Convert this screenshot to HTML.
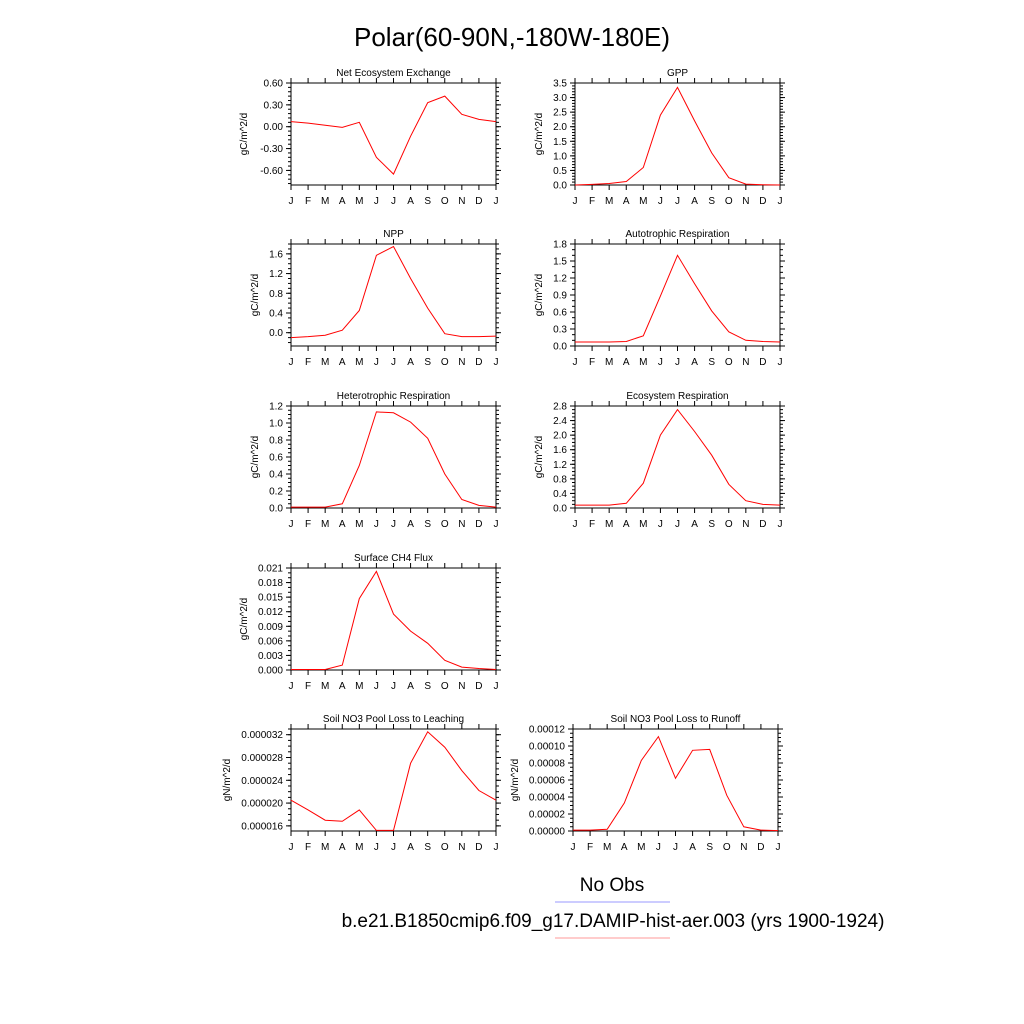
<!DOCTYPE html>
<html><head><meta charset="utf-8"><style>
body{margin:0;background:#fff;}
svg{display:block;font-family:"Liberation Sans",sans-serif;}
</style></head><body>
<svg id="c" width="1024" height="1024">
<text x="512" y="46" font-size="26" text-anchor="middle">Polar(60-90N,-180W-180E)</text>
<text x="612" y="891" font-size="19" text-anchor="middle">No Obs</text>
<line x1="555" y1="902" x2="670" y2="902" stroke="#99f" stroke-width="1"/>
<text x="613" y="927" font-size="19" text-anchor="middle">b.e21.B1850cmip6.f09_g17.DAMIP-hist-aer.003 (yrs 1900-1924)</text>
<line x1="555" y1="938" x2="670" y2="938" stroke="#f99" stroke-width="1"/>
</svg>
<script>
const months=["J","F","M","A","M","J","J","A","S","O","N","D","J"];
const titles=["Net Ecosystem Exchange","GPP","NPP","Autotrophic Respiration","Heterotrophic Respiration","Ecosystem Respiration","Surface CH4 Flux","Soil NO3 Pool Loss to Leaching","Soil NO3 Pool Loss to Runoff"];
const units=["gC/m^2/d","gC/m^2/d","gC/m^2/d","gC/m^2/d","gC/m^2/d","gC/m^2/d","gC/m^2/d","gN/m^2/d","gN/m^2/d"];
const neeVals=[0.07,0.05,0.02,-0.01,0.06,-0.42,-0.65,-0.13,0.33,0.42,0.17,0.10,0.07];
const gppVals=[0,0.02,0.05,0.12,0.6,2.4,3.35,2.2,1.1,0.25,0.03,0.01,0.0];
const nppVals=[-0.1,-0.08,-0.05,0.05,0.45,1.57,1.75,1.1,0.5,-0.02,-0.08,-0.08,-0.07];
const arVals=[0.07,0.07,0.07,0.08,0.18,0.88,1.6,1.1,0.62,0.25,0.1,0.08,0.07];
const hrVals=[0.01,0.01,0.01,0.05,0.5,1.13,1.12,1.01,0.82,0.4,0.1,0.03,0.01];
const erVals=[0.08,0.08,0.08,0.13,0.68,2.0,2.7,2.1,1.45,0.65,0.2,0.1,0.08];
const ch4Vals=[0.0001,0.0001,0.0001,0.001,0.0147,0.0203,0.0115,0.008,0.0055,0.002,0.0006,0.0003,0.0001];
const leachVals=[0.0000205,0.0000188,0.000017,0.0000168,0.0000188,0.0000152,0.0000152,0.000027,0.0000325,0.0000298,0.0000257,0.0000222,0.0000205];
const runoffVals=[0.000001,0.000001,0.000002,0.000033,0.000083,0.000111,0.000062,0.000095,0.000096,0.000042,0.000005,0.000001,0.0000005];
const neeTicks=["0.60","0.30","0.00","-0.30","-0.60"];
const gppTicks=["3.5","3.0","2.5","2.0","1.5","1.0","0.5","0.0"];
const nppTicks=["1.6","1.2","0.8","0.4","0.0"];
const arTicks=["1.8","1.5","1.2","0.9","0.6","0.3","0.0"];
const hrTicks=["1.2","1.0","0.8","0.6","0.4","0.2","0.0"];
const erTicks=["2.8","2.4","2.0","1.6","1.2","0.8","0.4","0.0"];
const ch4Ticks=["0.021","0.018","0.015","0.012","0.009","0.006","0.003","0.000"];
const leachTicks=["0.000032","0.000028","0.000024","0.000020","0.000016"];
const runoffTicks=["0.00012","0.00010","0.00008","0.00006","0.00004","0.00002","0.00000"];
const series=[neeVals,gppVals,nppVals,arVals,hrVals,erVals,ch4Vals,leachVals,runoffVals];
const ticks=[neeTicks,gppTicks,nppTicks,arTicks,hrTicks,erTicks,ch4Ticks,leachTicks,runoffTicks];
const ranges=[[-0.8,0.6],[0,3.5],[-0.27,1.8],[0,1.8],[0,1.2],[0,2.8],[0,0.021],[0.0000151,0.000033],[0,0.00012]];
const minorPer=[5,5,4,3,4,4,3,4,4];
const frames=[[291,83],[575,83],[291,244],[575,244],[291,406],[575,406],[291,568],[291,729],[573,729]];
const names=["nee","gpp","npp","autotrophic-resp","heterotrophic-resp","ecosystem-resp","ch4-flux","no3-leaching","no3-runoff"];
const W=205,H=102,NS="http://www.w3.org/2000/svg";
const svg=document.getElementById('c');
function mk(t,a,p){const e=document.createElementNS(NS,t);for(const k in a)e.setAttribute(k,a[k]);(p||svg).appendChild(e);return e;}
series.forEach((vals,i)=>{
  const [x0,y0]=frames[i],[lo,hi]=ranges[i];
  const g=mk('g',{});
  
  
  const xs=k=>x0+k*W/12, ys=v=>y0+H-(v-lo)/(hi-lo)*H;
  const fr=mk('rect',{x:x0,y:y0,width:W,height:H,fill:'none',stroke:'#000','stroke-width':1},g);
  
  
  const tt=mk('text',{x:x0+W/2,y:y0-7,'font-size':10,'text-anchor':'middle'},g);tt.textContent=titles[i];
  
  
  // x ticks
  for(let k=0;k<=12;k++){
    const x=xs(k);
    mk('line',{x1:x,y1:y0+H,x2:x,y2:y0+H+5,stroke:'#000'},g);
    mk('line',{x1:x,y1:y0,x2:x,y2:y0-5,stroke:'#000'},g);
    const t=mk('text',{x:x,y:y0+H+19,'font-size':10,'text-anchor':'middle'},g);t.textContent=months[k];
    
    
  }
  // y ticks
  const tv=ticks[i].map(Number);
  const step=tv[0]-tv[1];
  const mstep=step/minorPer[i];
  for(let v=tv[tv.length-1]-step*3;v<=hi+1e-12;v+=mstep){
    if(v<lo-1e-12)continue;const y=ys(v);
    mk('line',{x1:x0,y1:y,x2:x0-3,y2:y,stroke:'#000'},g);
    mk('line',{x1:x0+W,y1:y,x2:x0+W+3,y2:y,stroke:'#000'},g);
  }
  ticks[i].forEach((lab,j)=>{
    const y=ys(tv[j]);
    mk('line',{x1:x0,y1:y,x2:x0-5,y2:y,stroke:'#000'},g);
    mk('line',{x1:x0+W,y1:y,x2:x0+W+5,y2:y,stroke:'#000'},g);
    const t=mk('text',{x:x0-8,y:y+3.5,'font-size':10,'text-anchor':'end'},g);t.textContent=lab;
    
    
  });
  const maxw=Math.max(...ticks[i].map(s=>s.length))*5.6+12;
  const yt=mk('text',{x:0,y:0,'font-size':10,'text-anchor':'middle',transform:`translate(${x0-maxw-4},${y0+H/2}) rotate(-90)`},g);
  yt.textContent=units[i];
  
  
  const pts=vals.map((v,k)=>xs(k).toFixed(1)+','+ys(v).toFixed(1)).join(' ');
  const pl=mk('polyline',{points:pts,fill:'none',stroke:'#f00','stroke-width':1},g);
  
  
});
</script>
</body></html>
